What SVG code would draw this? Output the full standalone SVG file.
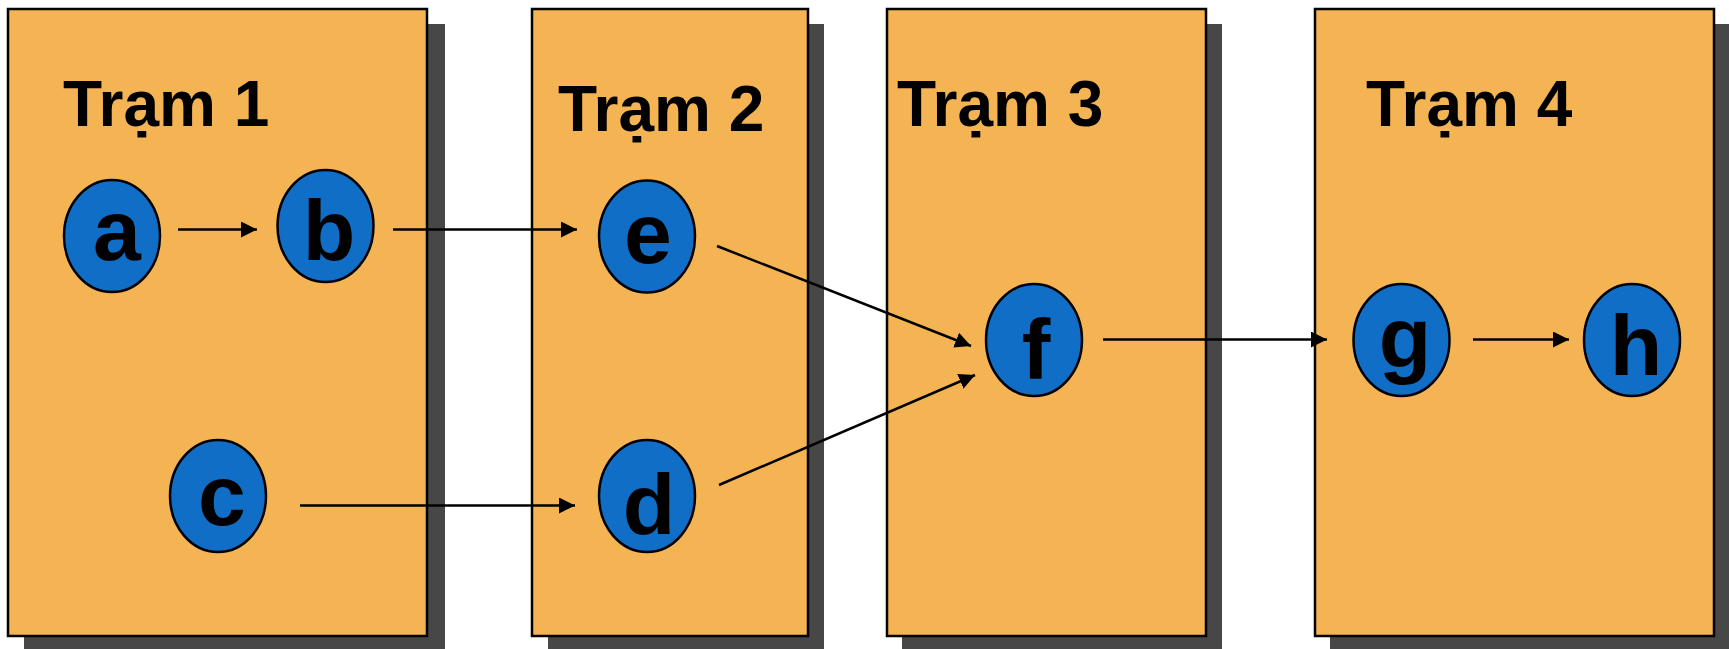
<svg xmlns="http://www.w3.org/2000/svg" xmlns:xlink="http://www.w3.org/1999/xlink" width="1729" height="649" viewBox="0 0 1729 649">
  <style>
    .shadow { fill: #474747; }
    .station { fill: #F5B454; stroke: #000; stroke-width: 2.5; }
    .title { font-family: "Liberation Sans", Arial, sans-serif; font-weight: bold; font-size: 64px; fill: #000; }
    .node { fill: #106EC6; stroke: #000; stroke-width: 2.5; }
    .label { font-family: "Liberation Sans", Arial, sans-serif; font-weight: bold; font-size: 86px; fill: #000; text-anchor: middle; }
    .edge { fill: none; stroke: #000; stroke-width: 2.5; marker-end: url(#arrow); }
  </style>
  <defs>
    <marker id="arrow" markerUnits="userSpaceOnUse" markerWidth="17" markerHeight="17" refX="16" refY="8" orient="auto">
      <path d="M0,0 L16,8 L0,16 z" fill="#000"/>
    </marker>
    <!-- oval node outline, centred on the origin (rx 48, ry 56) -->
    <path id="oval" d="M-48,0 c0,-30.93 21.49,-56 48,-56 c26.51,0 48,25.07 48,56 c0,30.93 -21.49,56 -48,56 c-26.51,0 -48,-25.07 -48,-56 z"/>
  </defs>
  <rect width="1729" height="649" fill="#fff"/>

  <!-- stations -->
  <g id="station1">
    <rect class="shadow" x="24" y="24" width="421" height="640"/>
    <rect class="station" x="8" y="9" width="419" height="627"/>
    <text class="title" x="63" y="126">Trạm 1</text>
  </g>
  <g id="station2">
    <rect class="shadow" x="548" y="24" width="276" height="640"/>
    <rect class="station" x="532" y="9" width="276" height="627"/>
    <text class="title" x="558" y="131">Trạm 2</text>
  </g>
  <g id="station3">
    <rect class="shadow" x="902" y="24" width="320" height="640"/>
    <rect class="station" x="887" y="9" width="319" height="627"/>
    <text class="title" x="897" y="126">Trạm 3</text>
  </g>
  <g id="station4">
    <rect class="shadow" x="1330" y="24" width="420" height="640"/>
    <rect class="station" x="1315" y="9" width="399" height="627"/>
    <text class="title" x="1366" y="126">Trạm 4</text>
  </g>

  <!-- nodes -->
  <g id="node-a">
    <use class="node" href="#oval" xlink:href="#oval" x="112" y="236"/>
    <text class="label" x="117" y="260">a</text>
  </g>
  <g id="node-b">
    <use class="node" href="#oval" xlink:href="#oval" x="325.5" y="226"/>
    <text class="label" x="329" y="260">b</text>
  </g>
  <g id="node-c">
    <use class="node" href="#oval" xlink:href="#oval" x="218" y="496"/>
    <text class="label" x="222" y="525">c</text>
  </g>
  <g id="node-d">
    <use class="node" href="#oval" xlink:href="#oval" x="647" y="496"/>
    <text class="label" x="649" y="534">d</text>
  </g>
  <g id="node-e">
    <use class="node" href="#oval" xlink:href="#oval" x="647" y="236.5"/>
    <text class="label" x="648" y="263">e</text>
  </g>
  <g id="node-f">
    <use class="node" href="#oval" xlink:href="#oval" x="1034" y="340"/>
    <text class="label" x="1036" y="379">f</text>
  </g>
  <g id="node-g">
    <use class="node" href="#oval" xlink:href="#oval" x="1401.5" y="340"/>
    <text class="label" x="1405" y="367">g</text>
  </g>
  <g id="node-h">
    <use class="node" href="#oval" xlink:href="#oval" x="1632" y="340"/>
    <text class="label" x="1636" y="375">h</text>
  </g>

  <!-- connectors -->
  <g id="connectors">
    <line class="edge" x1="178" y1="229.5" x2="257" y2="229.5"/>
    <line class="edge" x1="393" y1="229.5" x2="577" y2="229.5"/>
    <line class="edge" x1="300" y1="505.5" x2="575" y2="505.5"/>
    <line class="edge" x1="717" y1="246" x2="971" y2="346"/>
    <line class="edge" x1="719" y1="485" x2="975" y2="375"/>
    <line class="edge" x1="1103" y1="339.5" x2="1327" y2="339.5"/>
    <line class="edge" x1="1473" y1="339.5" x2="1569" y2="339.5"/>
  </g>
</svg>
